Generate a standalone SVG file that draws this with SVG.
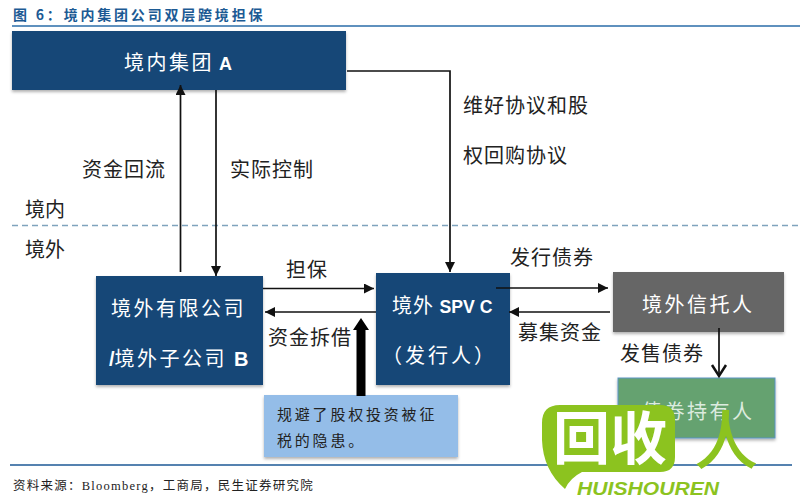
<svg xmlns="http://www.w3.org/2000/svg" width="800" height="500" viewBox="0 0 800 500">
<defs>
<style>
text{font-family:"Noto Sans CJK SC","Liberation Sans",sans-serif}
.l{font-size:20px;fill:#222;letter-spacing:1px}
.w{font-size:20px;fill:#fff;letter-spacing:2.5px}
.b{font-weight:700;font-family:"Liberation Sans","Noto Sans CJK SC",sans-serif;letter-spacing:0}
.c{fill:none;stroke:#111;stroke-width:1.7}
.box{filter:url(#s)}
.t{font-family:"Liberation Serif","Noto Sans CJK SC",serif}
</style>
<filter id="s" x="-5%" y="-5%" width="110%" height="115%"><feDropShadow dx="0" dy="2" stdDeviation="1.5" flood-color="#000" flood-opacity=".3"/></filter>
<marker id="a" markerUnits="userSpaceOnUse" markerWidth="12" markerHeight="12" refX="10" refY="5" orient="auto"><path d="M0 0L10 5L0 10z" fill="#111"/></marker>
</defs>
<rect width="800" height="500" fill="#fff"/>
<text x="13" y="20" font-size="14" font-weight="700" fill="#1c5a94" letter-spacing="2.8">图 6：境内集团公司双层跨境担保</text>
<path d="M12 26H800" stroke="#2a6ca8" stroke-width="1.5"/>
<path d="M12 225.500H800" stroke="#7fa3bd" stroke-width="1.300" stroke-dasharray="6 4"/>
<path d="M10 465H792" stroke="#5582b0" stroke-width="2"/>
<text class="l" x="25" y="217" style="letter-spacing:0">境内</text>
<text class="l" x="25" y="257" style="letter-spacing:0">境外</text>
<g id="node-a"><rect class="box" x="12" y="31" width="334" height="59" fill="#144677"/><text class="w" x="124" y="70">境内集团<tspan class="b" font-size="18"> A</tspan></text></g>
<g id="node-b"><rect class="box" x="96" y="276" width="167" height="109" fill="#144677"/><text class="w" x="111" y="316">境外有限公司</text><text class="w" x="109" y="366"><tspan class="b">/</tspan>境外子公司 <tspan class="b">B</tspan></text></g>
<g id="node-c"><rect class="box" x="376" y="273" width="134" height="112" fill="#144677"/><text class="w" x="392" y="313" style="letter-spacing:1px">境外 <tspan class="b" font-size="18" textLength="53" lengthAdjust="spacingAndGlyphs">SPV C</tspan></text><text class="w" x="382" y="363" style="letter-spacing:3px">（发行人）</text></g>
<g id="node-trustee"><rect class="box" x="613" y="272" width="171" height="60" fill="#666"/><text class="w" x="642" y="312">境外信托人</text></g>
<g id="node-holder"><rect class="box" x="618" y="378" width="157" height="60" fill="#65a26f" stroke="#5b93c4"/><text class="w" x="642" y="419" style="letter-spacing:2.500px;fill:#dcebdf">债券持有人</text></g>
<g id="node-note"><rect class="box" x="264" y="395" width="194" height="62" fill="#94bde8"/><text x="277" y="420" font-size="15" fill="#222" letter-spacing="2.800">规避了股权投资被征</text><text x="277" y="446" font-size="15" fill="#222" letter-spacing="2.800">税的隐患。</text></g>
<g id="connectors">
<path class="c" d="M180.500 272V85" marker-end="url(#a)"/>
<path class="c" d="M216 90V276" marker-end="url(#a)"/>
<path class="c" d="M347 71H450V272" marker-end="url(#a)"/>
<path class="c" d="M263 288.500H374" marker-end="url(#a)"/>
<path class="c" d="M376 312H265" marker-end="url(#a)"/>
<path class="c" d="M496 288H608" marker-end="url(#a)"/>
<path class="c" d="M610 312H509" marker-end="url(#a)"/>
<path class="c" d="M719 328V376"/><path d="M712 365L719 376L726 365" fill="none" stroke="#111" stroke-width="2.500"/>
<path d="M356.500 396V330H353L361 318L369 330H365.500V396z" fill="#000"/>
</g>
<g id="labels">
<text class="l" x="82" y="177">资金回流</text>
<text class="l" x="230" y="177">实际控制</text>
<text class="l" x="463" y="113">维好协议和股</text>
<text class="l" x="463" y="163">权回购协议</text>
<text class="l" x="286" y="277">担保</text>
<text class="l" x="268" y="345">资金拆借</text>
<text class="l" x="510" y="265">发行债券</text>
<text class="l" x="518" y="340">募集资金</text>
<text class="l" x="620" y="361">发售债券</text>
</g>
<text x="13" y="490" font-size="12.500" fill="#222" class="t" letter-spacing="1.250">资料来源：Bloomberg，工商局，民生证券研究院</text>
<g id="watermark">
<path d="M560 405H660Q675 405 675 420V457Q675 472 660 472H582Q570 478 565 489Q543 470 542 440V423Q542 405 560 405z" fill="#8cc31f"/>
<text x="553" y="459" font-size="57" font-weight="700" fill="#fff">回收</text>
<text x="694" y="464" font-size="64" font-weight="500" fill="#8cc31f">人</text>
<text x="577" y="495" font-size="19" font-weight="700" font-style="italic" fill="#8cc31f" textLength="142" lengthAdjust="spacingAndGlyphs" style="font-family:'Liberation Sans',sans-serif">HUISHOUREN</text>
</g>
</svg>
